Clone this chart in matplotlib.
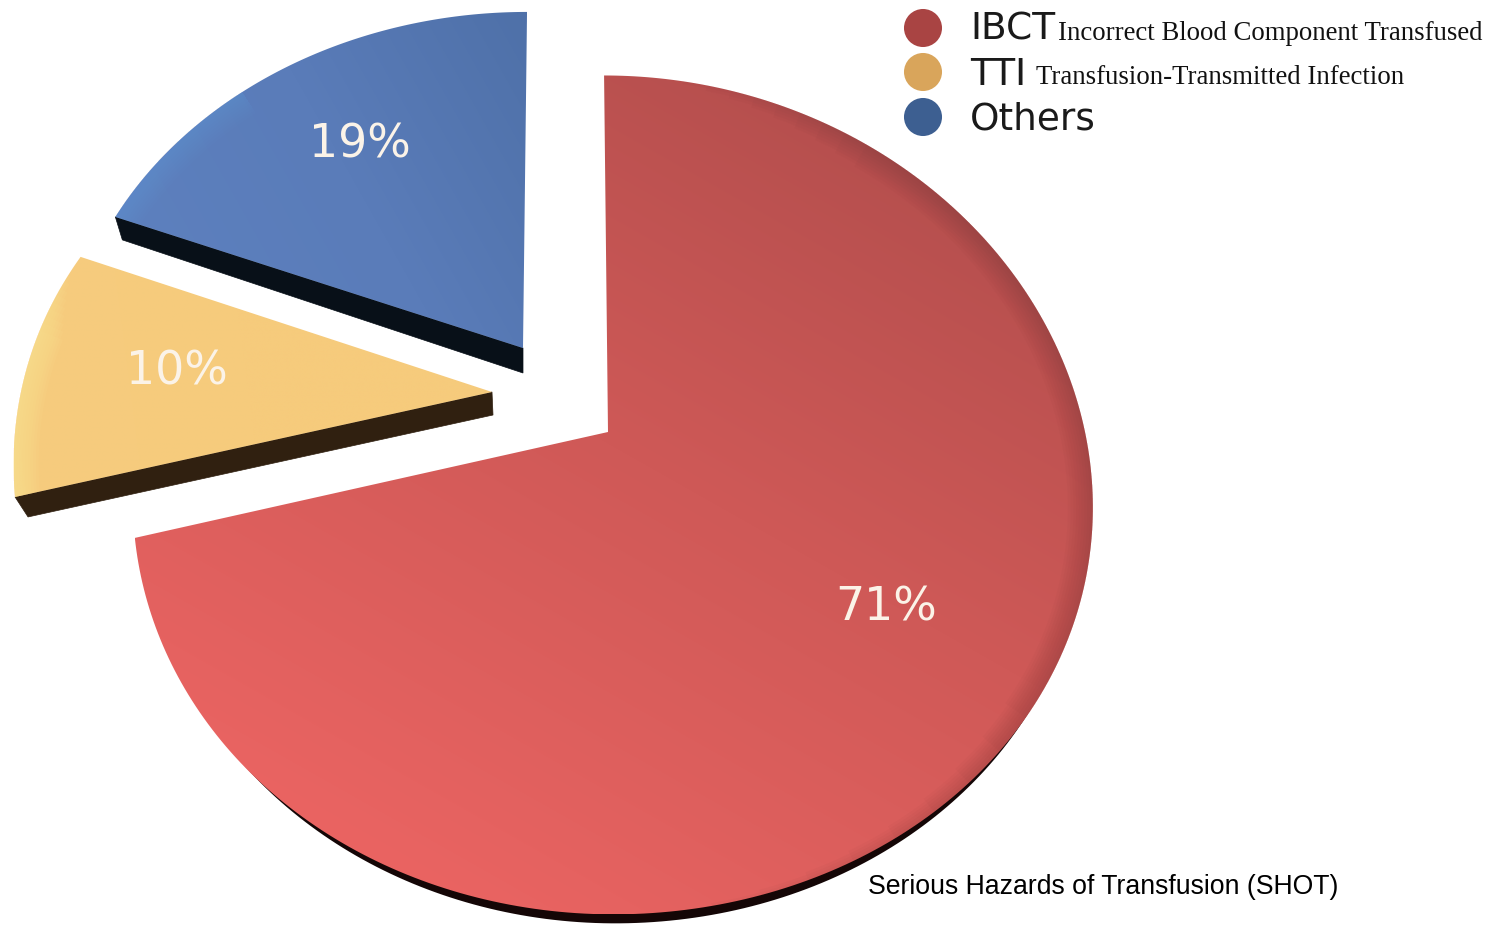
import numpy as np
import matplotlib
matplotlib.use("Agg")
import matplotlib.pyplot as plt
from matplotlib.patches import Polygon
from matplotlib.colors import to_rgb

categories = ["IBCT", "TTI", "Others"]
descriptions = ["Incorrect Blood Component Transfused", "Transfusion-Transmitted Infection", ""]
values = [71, 10, 19]          # drawn clockwise from 12 o'clock, same order as categories
labels = ["71%", "10%", "19%"]
caption = "Serious Hazards of Transfusion (SHOT)"

W, H = 1503, 925
fig = plt.figure(figsize=(W / 100, H / 100), dpi=100)
ax = fig.add_axes([0, 0, 1, 1])
ax.set_axis_off()

# per-wedge perspective geometry (pixel layout)
geom = {
    "IBCT":   dict(c=(608, 432), R=477, Rl=469, a=410, k=0.15, kx=0.17, s=-0.011),
    "Others": dict(c=(523, 348), R=456, Rl=456, a=369, k=0.098, kx=0.098, s=0.012),
    "TTI":    dict(c=(492, 392), R=471, Rl=471, a=398, k=0.229, kx=0.175, s=0.0),
}
styles = {
    "IBCT": dict(p0=(950, 90), p1=(480, 920),
                 stops=["#B04D4C", "#CF5957", "#EA6462"], rim="#6A3030", rim_a=0.035,
                 rim_range=(-1.5, 1.45), taper=(0.9, 0.6)),
    "Others": dict(p0=(520, 20), p1=(130, 240),
                   stops=["#4F71A9", "#5A7CB9", "#5D80BE"], rim="#6F9FE0", rim_a=0.04,
                   rim_range=(2.3, 2.8), taper=(0.0, 0.0)),
    "TTI": dict(p0=(480, 390), p1=(20, 450),
                stops=["#F6CB7C", "#F6CB7C", "#F6CC7E"], rim="#FFE694", rim_a=0.10,
                rim_range=(2.8, 3.5), taper=(0.2, 0.0)),
}


def project(g, ang):
    u, v = np.cos(ang), np.sin(ang)
    yoff = g["a"] * v / (1 + g["k"] * v)
    R = np.where(u < 0, g["Rl"], g["R"])
    x = g["c"][0] + R * u / (1 + g["kx"] * v) + g["s"] * yoff
    y = g["c"][1] - yoff
    return x, y


def gradient(style, extent):
    x0, x1, y0, y1 = extent
    X, Y = np.meshgrid(np.linspace(x0, x1, 300), np.linspace(y0, y1, 300))
    p0, p1 = np.array(style["p0"]), np.array(style["p1"])
    d = p1 - p0
    t = np.clip(((X - p0[0]) * d[0] + (Y - p0[1]) * d[1]) / (d @ d), 0, 1)
    cols = np.array([to_rgb(c) for c in style["stops"]])
    pos = np.linspace(0, 1, len(cols))
    return np.dstack([np.interp(t, pos, cols[:, i]) for i in range(3)])


fractions = np.array(values) / np.sum(values) * 2 * np.pi
start = np.pi / 2
arcs = {}
for name, frac in zip(categories, fractions):
    arcs[name] = np.linspace(start, start - frac, 300)
    start -= frac

polys = {}
for name in categories:
    g = geom[name]
    ax_, ay_ = project(g, arcs[name])
    polys[name] = (np.r_[g["c"][0], ax_], np.r_[g["c"][1], ay_], ax_, ay_)


def side(name, off_outer, off_apex, color):
    g = geom[name]
    _, _, ax_, ay_ = polys[name]
    outer = (ax_[0], ay_[0])
    pts = [outer, g["c"],
           (g["c"][0] + off_apex[0], g["c"][1] + off_apex[1]),
           (outer[0] + off_outer[0], outer[1] + off_outer[1])]
    ax.add_patch(Polygon(pts, closed=True, fc=color, ec=color, lw=0.5, zorder=1))


side("Others", (7, 23), (0, 25), "#081018")
side("TTI", (13, 20), (1, 23), "#302010")

# red shadow, hidden towards the sides
px, py, ax_, ay_ = polys["IBCT"]
cx0 = geom["IBCT"]["c"][0]
ax.add_patch(Polygon(np.c_[cx0 + 2 + (px - cx0) * 0.98, py + 9], closed=True,
                     fc="#140606", ec="none", zorder=1))

for name in categories:
    px, py, arcx, arcy = polys[name]
    patch = Polygon(np.c_[px, py], closed=True, fc="none", ec="none", zorder=2)
    ax.add_patch(patch)
    st = styles[name]
    ext = (px.min(), px.max(), py.min(), py.max())
    im = ax.imshow(gradient(st, ext), extent=(ext[0], ext[1], ext[3], ext[2]),
                   origin="upper", aspect="auto", zorder=2, interpolation="bilinear")
    im.set_clip_path(patch)
    ang = np.mod(arcs[name] + np.pi, 2 * np.pi) - np.pi if name == "IBCT" else np.mod(arcs[name], 2 * np.pi)
    lo, hi = st["rim_range"]
    tl, th = st["taper"]
    for lw in np.arange(4, 40, 4):
        m = (ang >= lo + tl * lw / 40) & (ang <= hi - th * lw / 40)
        ln, = ax.plot(arcx[m], arcy[m], color=st["rim"], lw=lw, alpha=st["rim_a"],
                      solid_capstyle="butt", zorder=3)
        ln.set_clip_path(patch)

# percent labels
label_pos = {"IBCT": (886, 608), "Others": (360, 145), "TTI": (177, 372)}
for name, lab in zip(categories, labels):
    ax.text(*label_pos[name], lab, color="#FBF3E8", fontsize=33, ha="center", va="center",
            family="DejaVu Sans", zorder=5)

# legend
leg_colors = ["#A94443", "#D9A55B", "#3D5F91"]
leg_y = [28, 72, 117]
leg_text_y = [30, 75, 120]
desc_y = [34, 78, None]
desc_x = [1058, 1036, None]
ax.scatter([923] * 3, leg_y, s=750, c=leg_colors, linewidths=0, zorder=5)
for cat, desc, ty, dx, dy in zip(categories, descriptions, leg_text_y, desc_x, desc_y):
    ax.text(970, ty, cat, fontsize=27, color="#1a1a1a", ha="left", va="center",
            family="DejaVu Sans", zorder=5)
    if desc:
        ax.text(dx, dy, desc, fontsize=19.3, color="#111111", ha="left", va="center",
                family="Liberation Serif", zorder=5)

ax.text(868, 887, caption, fontsize=19.2, color="black", ha="left", va="center",
        family="Liberation Sans", zorder=5)

ax.set_xlim(0, W)
ax.set_ylim(H, 0)
fig.savefig("out.png", dpi=100, facecolor="white")
